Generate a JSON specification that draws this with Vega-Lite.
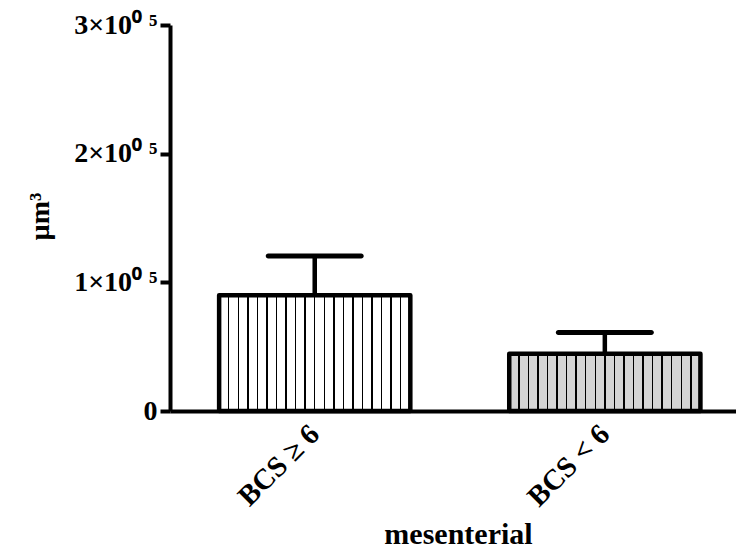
{
  "$schema": "https://vega.github.io/schema/vega-lite/v6.json",
  "width": 566,
  "height": 386,
  "autosize": {"type": "none"},
  "padding": {"left": 170, "top": 25, "right": 0, "bottom": 141},
  "background": "white",
  "config": {
    "font": "Liberation Serif",
    "view": {"stroke": null}
  },
  "data": {
    "values": [
      {"group": "BCS ≥ 6", "mean": 90000, "upper": 120500},
      {"group": "BCS < 6", "mean": 44500, "upper": 61000}
    ]
  },
  "encoding": {
    "x": {
      "field": "group",
      "type": "nominal",
      "sort": null,
      "scale": {"paddingInner": 0.341, "paddingOuter": 0.146, "align": 0.58},
      "axis": {
        "title": "mesenterial",
        "titleFontSize": 30,
        "titleFontWeight": "bold",
        "titleColor": "black",
        "titleBaseline": "alphabetic",
        "titleY": 132,
        "titleX": 288,
        "labelFontSize": 29,
        "labelFontWeight": "bold",
        "labelColor": "black",
        "labelAngle": -45,
        "labelAlign": "right",
        "labelBaseline": "middle",
        "labelPadding": 18,
        "ticks": false,
        "domainColor": "black",
        "domainWidth": 4
      }
    }
  },
  "layer": [
    {
      "mark": {"type": "bar", "stroke": "black", "strokeWidth": 4.5, "strokeJoin": "round"},
      "encoding": {
        "y": {
          "field": "mean",
          "type": "quantitative",
          "scale": {"domain": [0, 300000], "nice": false},
          "axis": {
            "title": "µm³",
            "titleFontSize": 28,
            "titleFontWeight": "bold",
            "titleColor": "black",
            "titleAngle": -90,
            "titleAlign": "center",
            "titleBaseline": "middle",
            "titleX": -130,
            "titleY": 191,
            "values": [0, 100000, 200000, 300000],
            "labelExpr": "datum.value == 0 ? '0' : format(datum.value / 100000, 'd') + '×10⁰ ⁵'",
            "labelFontSize": 28,
            "labelFontWeight": "bold",
            "labelColor": "black",
            "labelPadding": 3,
            "tickSize": 10,
            "tickWidth": 4,
            "tickColor": "black",
            "domainColor": "black",
            "domainWidth": 4,
            "grid": false
          }
        },
        "fill": {
          "condition": {
            "test": "datum.group === 'BCS < 6'",
            "value": {
              "gradient": "linear", "x1": 0, "y1": 0, "x2": 1, "y2": 0,
              "stops": [
                {"offset": 0, "color": "#d4d4d4"},
                {"offset": 0.0462, "color": "#d4d4d4"}, {"offset": 0.0462, "color": "#000000"}, {"offset": 0.0538, "color": "#000000"}, {"offset": 0.0538, "color": "#d4d4d4"},
                {"offset": 0.0962, "color": "#d4d4d4"}, {"offset": 0.0962, "color": "#000000"}, {"offset": 0.1038, "color": "#000000"}, {"offset": 0.1038, "color": "#d4d4d4"},
                {"offset": 0.1462, "color": "#d4d4d4"}, {"offset": 0.1462, "color": "#000000"}, {"offset": 0.1538, "color": "#000000"}, {"offset": 0.1538, "color": "#d4d4d4"},
                {"offset": 0.1962, "color": "#d4d4d4"}, {"offset": 0.1962, "color": "#000000"}, {"offset": 0.2038, "color": "#000000"}, {"offset": 0.2038, "color": "#d4d4d4"},
                {"offset": 0.2462, "color": "#d4d4d4"}, {"offset": 0.2462, "color": "#000000"}, {"offset": 0.2538, "color": "#000000"}, {"offset": 0.2538, "color": "#d4d4d4"},
                {"offset": 0.2962, "color": "#d4d4d4"}, {"offset": 0.2962, "color": "#000000"}, {"offset": 0.3038, "color": "#000000"}, {"offset": 0.3038, "color": "#d4d4d4"},
                {"offset": 0.3462, "color": "#d4d4d4"}, {"offset": 0.3462, "color": "#000000"}, {"offset": 0.3538, "color": "#000000"}, {"offset": 0.3538, "color": "#d4d4d4"},
                {"offset": 0.3962, "color": "#d4d4d4"}, {"offset": 0.3962, "color": "#000000"}, {"offset": 0.4038, "color": "#000000"}, {"offset": 0.4038, "color": "#d4d4d4"},
                {"offset": 0.4462, "color": "#d4d4d4"}, {"offset": 0.4462, "color": "#000000"}, {"offset": 0.4538, "color": "#000000"}, {"offset": 0.4538, "color": "#d4d4d4"},
                {"offset": 0.4962, "color": "#d4d4d4"}, {"offset": 0.4962, "color": "#000000"}, {"offset": 0.5038, "color": "#000000"}, {"offset": 0.5038, "color": "#d4d4d4"},
                {"offset": 0.5462, "color": "#d4d4d4"}, {"offset": 0.5462, "color": "#000000"}, {"offset": 0.5538, "color": "#000000"}, {"offset": 0.5538, "color": "#d4d4d4"},
                {"offset": 0.5962, "color": "#d4d4d4"}, {"offset": 0.5962, "color": "#000000"}, {"offset": 0.6038, "color": "#000000"}, {"offset": 0.6038, "color": "#d4d4d4"},
                {"offset": 0.6462, "color": "#d4d4d4"}, {"offset": 0.6462, "color": "#000000"}, {"offset": 0.6538, "color": "#000000"}, {"offset": 0.6538, "color": "#d4d4d4"},
                {"offset": 0.6962, "color": "#d4d4d4"}, {"offset": 0.6962, "color": "#000000"}, {"offset": 0.7038, "color": "#000000"}, {"offset": 0.7038, "color": "#d4d4d4"},
                {"offset": 0.7462, "color": "#d4d4d4"}, {"offset": 0.7462, "color": "#000000"}, {"offset": 0.7538, "color": "#000000"}, {"offset": 0.7538, "color": "#d4d4d4"},
                {"offset": 0.7962, "color": "#d4d4d4"}, {"offset": 0.7962, "color": "#000000"}, {"offset": 0.8038, "color": "#000000"}, {"offset": 0.8038, "color": "#d4d4d4"},
                {"offset": 0.8462, "color": "#d4d4d4"}, {"offset": 0.8462, "color": "#000000"}, {"offset": 0.8538, "color": "#000000"}, {"offset": 0.8538, "color": "#d4d4d4"},
                {"offset": 0.8962, "color": "#d4d4d4"}, {"offset": 0.8962, "color": "#000000"}, {"offset": 0.9038, "color": "#000000"}, {"offset": 0.9038, "color": "#d4d4d4"},
                {"offset": 0.9462, "color": "#d4d4d4"}, {"offset": 0.9462, "color": "#000000"}, {"offset": 0.9538, "color": "#000000"}, {"offset": 0.9538, "color": "#d4d4d4"},
                {"offset": 1, "color": "#d4d4d4"}
              ]
            }
          },
          "value": {
            "gradient": "linear", "x1": 0, "y1": 0, "x2": 1, "y2": 0,
            "stops": [
              {"offset": 0, "color": "#ffffff"},
              {"offset": 0.0462, "color": "#ffffff"}, {"offset": 0.0462, "color": "#000000"}, {"offset": 0.0538, "color": "#000000"}, {"offset": 0.0538, "color": "#ffffff"},
              {"offset": 0.0962, "color": "#ffffff"}, {"offset": 0.0962, "color": "#000000"}, {"offset": 0.1038, "color": "#000000"}, {"offset": 0.1038, "color": "#ffffff"},
              {"offset": 0.1462, "color": "#ffffff"}, {"offset": 0.1462, "color": "#000000"}, {"offset": 0.1538, "color": "#000000"}, {"offset": 0.1538, "color": "#ffffff"},
              {"offset": 0.1962, "color": "#ffffff"}, {"offset": 0.1962, "color": "#000000"}, {"offset": 0.2038, "color": "#000000"}, {"offset": 0.2038, "color": "#ffffff"},
              {"offset": 0.2462, "color": "#ffffff"}, {"offset": 0.2462, "color": "#000000"}, {"offset": 0.2538, "color": "#000000"}, {"offset": 0.2538, "color": "#ffffff"},
              {"offset": 0.2962, "color": "#ffffff"}, {"offset": 0.2962, "color": "#000000"}, {"offset": 0.3038, "color": "#000000"}, {"offset": 0.3038, "color": "#ffffff"},
              {"offset": 0.3462, "color": "#ffffff"}, {"offset": 0.3462, "color": "#000000"}, {"offset": 0.3538, "color": "#000000"}, {"offset": 0.3538, "color": "#ffffff"},
              {"offset": 0.3962, "color": "#ffffff"}, {"offset": 0.3962, "color": "#000000"}, {"offset": 0.4038, "color": "#000000"}, {"offset": 0.4038, "color": "#ffffff"},
              {"offset": 0.4462, "color": "#ffffff"}, {"offset": 0.4462, "color": "#000000"}, {"offset": 0.4538, "color": "#000000"}, {"offset": 0.4538, "color": "#ffffff"},
              {"offset": 0.4962, "color": "#ffffff"}, {"offset": 0.4962, "color": "#000000"}, {"offset": 0.5038, "color": "#000000"}, {"offset": 0.5038, "color": "#ffffff"},
              {"offset": 0.5462, "color": "#ffffff"}, {"offset": 0.5462, "color": "#000000"}, {"offset": 0.5538, "color": "#000000"}, {"offset": 0.5538, "color": "#ffffff"},
              {"offset": 0.5962, "color": "#ffffff"}, {"offset": 0.5962, "color": "#000000"}, {"offset": 0.6038, "color": "#000000"}, {"offset": 0.6038, "color": "#ffffff"},
              {"offset": 0.6462, "color": "#ffffff"}, {"offset": 0.6462, "color": "#000000"}, {"offset": 0.6538, "color": "#000000"}, {"offset": 0.6538, "color": "#ffffff"},
              {"offset": 0.6962, "color": "#ffffff"}, {"offset": 0.6962, "color": "#000000"}, {"offset": 0.7038, "color": "#000000"}, {"offset": 0.7038, "color": "#ffffff"},
              {"offset": 0.7462, "color": "#ffffff"}, {"offset": 0.7462, "color": "#000000"}, {"offset": 0.7538, "color": "#000000"}, {"offset": 0.7538, "color": "#ffffff"},
              {"offset": 0.7962, "color": "#ffffff"}, {"offset": 0.7962, "color": "#000000"}, {"offset": 0.8038, "color": "#000000"}, {"offset": 0.8038, "color": "#ffffff"},
              {"offset": 0.8462, "color": "#ffffff"}, {"offset": 0.8462, "color": "#000000"}, {"offset": 0.8538, "color": "#000000"}, {"offset": 0.8538, "color": "#ffffff"},
              {"offset": 0.8962, "color": "#ffffff"}, {"offset": 0.8962, "color": "#000000"}, {"offset": 0.9038, "color": "#000000"}, {"offset": 0.9038, "color": "#ffffff"},
              {"offset": 0.9462, "color": "#ffffff"}, {"offset": 0.9462, "color": "#000000"}, {"offset": 0.9538, "color": "#000000"}, {"offset": 0.9538, "color": "#ffffff"},
              {"offset": 1, "color": "#ffffff"}
            ]
          }
        }
      }
    },
    {
      "mark": {"type": "rule", "color": "black", "strokeWidth": 4.5},
      "encoding": {
        "y": {"field": "mean", "type": "quantitative"},
        "y2": {"field": "upper"}
      }
    },
    {
      "mark": {"type": "tick", "color": "black", "size": 98, "thickness": 5, "cornerRadius": 2.5, "opacity": 1},
      "encoding": {
        "y": {"field": "upper", "type": "quantitative"}
      }
    }
  ]
}
